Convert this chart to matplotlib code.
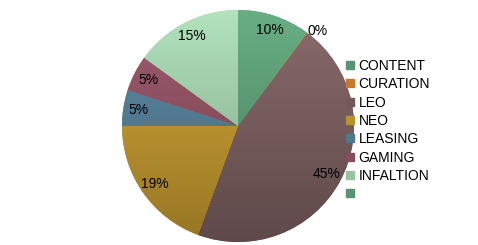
import matplotlib
matplotlib.use("Agg")
import matplotlib.pyplot as plt
import numpy as np
from matplotlib.lines import Line2D

plt.rcParams['font.family'] = ['Liberation Sans', 'DejaVu Sans']

categories = ["CONTENT", "CURATION", "LEO", "NEO", "LEASING", "GAMING", "INFALTION", ""]
values = [10.1, 0.1, 45.4, 19.4, 5.0, 5.0, 15.0]
colors = ["#56956f", "#c8782e", "#74595a", "#b8902c", "#4e7890", "#884c5c", "#98c4a2", "#56956f"]

W, H = 478, 245
fig = plt.figure(figsize=(W / 100, H / 100), dpi=100)
cx, cy, r = 238, 126, 116  # cy measured from the top
ax = fig.add_axes([(cx - r) / W, (H - cy - r) / H, 2 * r / W, 2 * r / H])

wedges, texts, autotexts = ax.pie(values, colors=colors[:len(values)], startangle=90,
                                  counterclock=False, radius=1,
                                  autopct=lambda p: f"{p:.0f}%", pctdistance=0.87,
                                  textprops=dict(fontsize=10, color='black'))

# vertical gradient, lighter on top, darker at bottom
yy = np.linspace(1, 0, 200)[:, None]
for w, c in zip(wedges, colors):
    base = np.array(matplotlib.colors.to_rgb(c))
    light = np.clip(base * 1.12 + 0.03, 0, 1)
    dark = base * 0.82
    img = (dark[None, None, :] + (light - dark)[None, None, :] * yy[:, :, None])
    img = np.repeat(img, 2, axis=1)
    im = ax.imshow(img, extent=[-1, 1, -1, 1], aspect='auto', zorder=w.get_zorder() + 0.1,
                   interpolation='bilinear')
    im.set_clip_path(w)
for t in autotexts:
    t.set_zorder(5)

ax.set_xlim(-1, 1)
ax.set_ylim(-1, 1)
ax.set_aspect('equal')
ax.axis('off')

# small slice label sits outside the pie
ang = np.deg2rad((wedges[1].theta1 + wedges[1].theta2) / 2)
autotexts[1].set_position((1.07 * np.cos(ang) + 0.05, 1.07 * np.sin(ang) - 0.045))

handles = [Line2D([0], [0], marker='s', linestyle='none', markersize=6,
                  markerfacecolor=c, markeredgecolor=c) for c in colors]
fig.legend(handles, categories, loc='upper left', bbox_to_anchor=(346 / W, 1 - 59 / H),
           frameon=False, fontsize=10, handlelength=0.6, handletextpad=0.3,
           labelspacing=0.31, borderpad=0, borderaxespad=0)

fig.savefig("out.png", dpi=100)
